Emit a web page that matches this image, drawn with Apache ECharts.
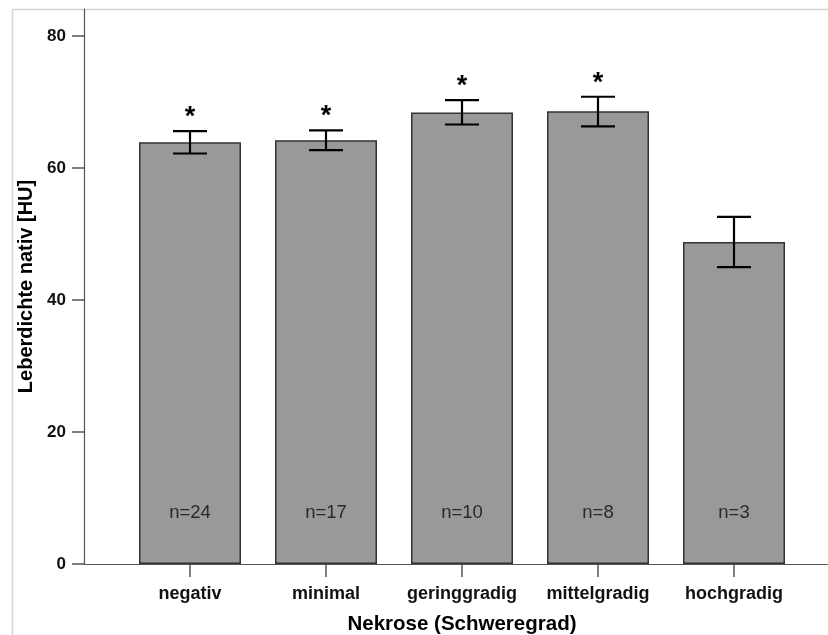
<!DOCTYPE html>
<html>
<head>
<meta charset="utf-8">
<script src="https://cdn.jsdelivr.net/npm/echarts@6/dist/echarts.min.js"></script>
<style>
html,body{margin:0;padding:0;background:#fff;}
#chart{width:828px;height:635px;}
</style>
</head>
<body>
<div id="chart"></div>
<script>
const categories = ['negativ', 'minimal', 'geringgradig', 'mittelgradig', 'hochgradig'];
const means = [63.9, 64.2, 68.4, 68.6, 48.8];
const errLow = [62.2, 62.7, 66.6, 66.3, 45.0];
const errHigh = [65.6, 65.7, 70.3, 70.8, 52.6];
const nLabels = ['n=24', 'n=17', 'n=10', 'n=8', 'n=3'];
const significant = [1, 1, 1, 1, 0];
const yMin = 0, yMax = 84.1, yInterval = 20;

const FONT = 'Liberation Sans, Arial, sans-serif';
const chart = echarts.init(document.getElementById('chart'), null, {renderer: 'canvas'});

const errData = categories.map((c, i) => [i, errLow[i], errHigh[i], significant[i]]);

chart.setOption({
  animation: false,
  backgroundColor: '#fff',
  graphic: [{
    type: 'rect', silent: true, z: -10,
    shape: {x: 12.5, y: 9.5, width: 900, height: 700},
    style: {fill: 'none', stroke: '#d4d4d4', lineWidth: 1.5}
  }],
  grid: [
    {left: 84, right: 0, top: 9, bottom: 71, containLabel: false, outerBoundsMode: 'none'},
    {left: 122, right: 26, top: 9, bottom: 71, containLabel: false, outerBoundsMode: 'none'}
  ],
  xAxis: [
    {
      gridIndex: 0, type: 'value', min: 0, max: 1,
      axisLine: {show: true, onZero: false, lineStyle: {color: '#555', width: 1.2}},
      axisTick: {show: false}, axisLabel: {show: false}, splitLine: {show: false}
    },
    {
      gridIndex: 1, type: 'category', data: categories,
      axisLine: {show: false, onZero: false},
      axisTick: {show: true, alignWithLabel: true, length: 13, lineStyle: {color: '#555', width: 1.5}},
      axisLabel: {color: '#111', fontWeight: 'bold', fontSize: 18, fontFamily: FONT, margin: 21, interval: 0, hideOverlap: false},
      name: 'Nekrose (Schweregrad)', nameLocation: 'middle', nameGap: 50,
      nameTextStyle: {color: '#000', fontWeight: 'bold', fontSize: 20.5, fontFamily: FONT},
      splitLine: {show: false}
    }
  ],
  yAxis: [
    {
      gridIndex: 0, type: 'value', min: yMin, max: yMax, interval: yInterval,
      axisLine: {show: true, lineStyle: {color: '#555', width: 1.2}},
      axisTick: {show: true, length: 12, lineStyle: {color: '#555', width: 1.5}},
      axisLabel: {color: '#111', fontWeight: 'bold', fontSize: 17, fontFamily: FONT, margin: 18, showMaxLabel: false},
      splitLine: {show: false},
      name: 'Leberdichte nativ [HU]', nameLocation: 'middle', nameGap: 48,
      nameTextStyle: {color: '#000', fontWeight: 'bold', fontSize: 20, fontFamily: FONT}
    },
    {
      gridIndex: 1, type: 'value', min: yMin, max: yMax, interval: yInterval, show: false,
      splitLine: {show: false}
    }
  ],
  series: [
    {
      type: 'bar', xAxisIndex: 1, yAxisIndex: 1, data: means, barWidth: 102,
      itemStyle: {color: '#999999', borderColor: '#333', borderWidth: 1.5},
      label: {
        show: true, position: 'insideBottom', distance: 42,
        formatter: p => nLabels[p.dataIndex],
        color: '#2a2a2a', fontSize: 18.5, fontFamily: FONT
      }
    },
    {
      type: 'custom', xAxisIndex: 1, yAxisIndex: 1, data: errData, z: 10,
      renderItem: function (params, api) {
        const i = api.value(0);
        const lo = api.coord([i, api.value(1)]);
        const hi = api.coord([i, api.value(2)]);
        const hw = 17;
        const st = {stroke: '#000', lineWidth: 2.2};
        const children = [
          {type: 'line', shape: {x1: lo[0], y1: lo[1], x2: hi[0], y2: hi[1]}, style: st},
          {type: 'line', shape: {x1: hi[0] - hw, y1: hi[1], x2: hi[0] + hw, y2: hi[1]}, style: st},
          {type: 'line', shape: {x1: lo[0] - hw, y1: lo[1], x2: lo[0] + hw, y2: lo[1]}, style: st}
        ];
        if (api.value(3)) {
          children.push({
            type: 'text',
            style: {text: '*', x: hi[0], y: hi[1], align: 'center', verticalAlign: 'bottom',
                    font: 'bold 27px ' + FONT, fill: '#000'}
          });
        }
        return {type: 'group', children: children};
      }
    }
  ]
});
</script>
</body>
</html>
